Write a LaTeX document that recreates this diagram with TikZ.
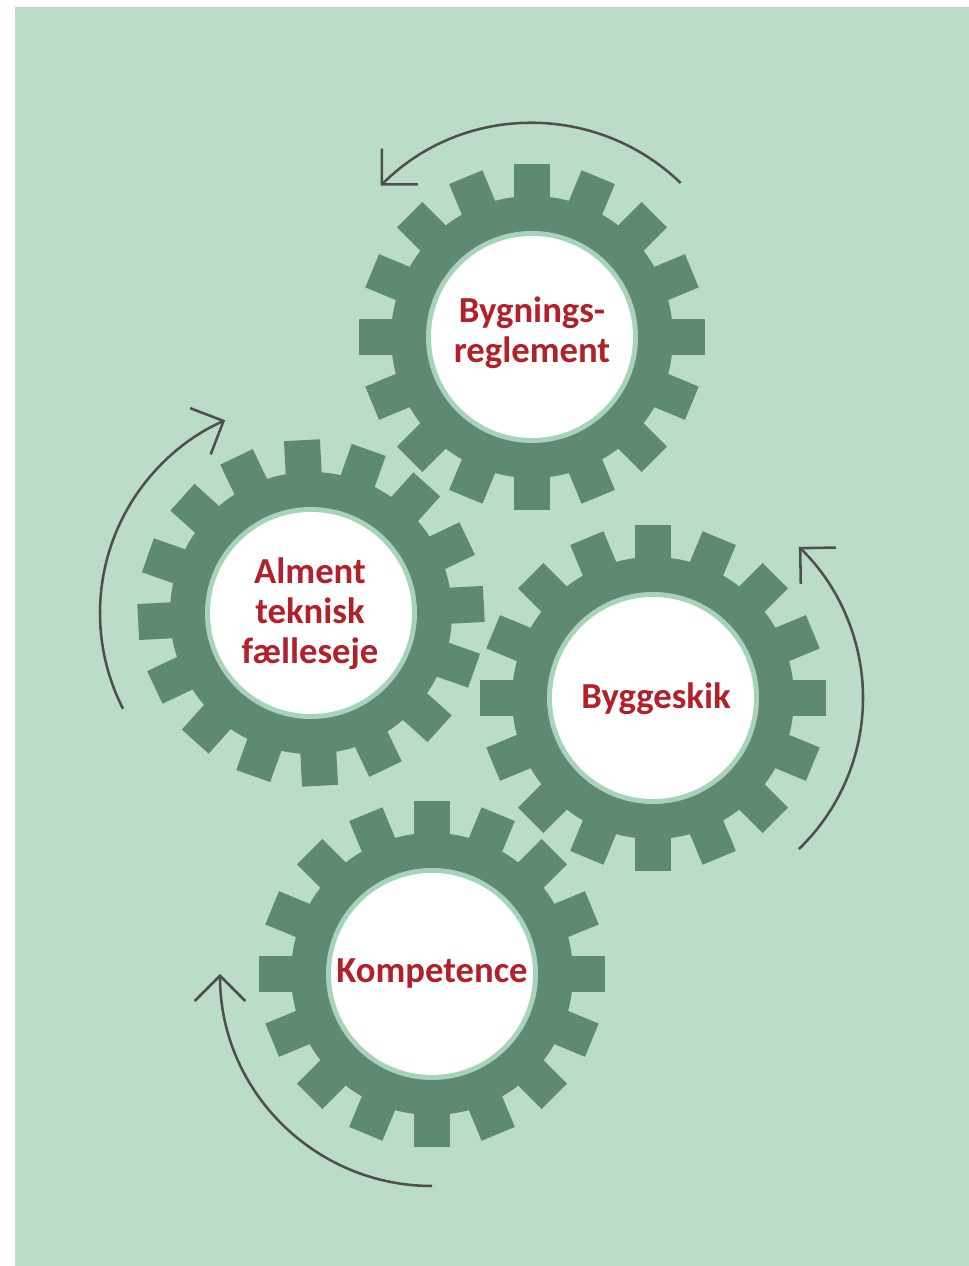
\documentclass[tikz,border=0pt]{standalone}
\usepackage{fontspec}
\setmainfont{Carlito}
\usetikzlibrary{arrows.meta}
\definecolor{bgc}{HTML}{BADCC8}
\definecolor{gearc}{HTML}{608974}
\definecolor{ringc}{HTML}{A6D3BA}
\definecolor{txtc}{HTML}{B2202A}
\definecolor{arrc}{HTML}{4F4F4F}
\newcommand{\drawgear}[2]{%
  \fill[gearc] (#1) circle[radius=141];
  \foreach \i in {0,...,15}{
    \fill[gearc, shift={(#1)}, rotate={#2+\i*22.5}] (-18,120) rectangle (18,173);
  }
  \fill[ringc] (#1) circle[radius=106];
  \fill[white] (#1) circle[radius=101];
}
\tikzset{
  label/.style={anchor=base, align=center, inner sep=0pt, text=txtc,
    font=\fontsize{27.5pt}{30pt}\selectfont\bfseries},
  turn/.style={draw=arrc, line width=1.9pt,
    -{Straight Barb[length=19pt,width=38pt,line width=1.9pt]}}
}
\begin{document}
\begin{tikzpicture}[x=0.75pt,y=0.75pt]
\useasboundingbox (0,0) rectangle (969,1266);
\fill[bgc] (15,0) rectangle (969,1259);
\coordinate (g1) at (532,929);
\coordinate (g2) at (311,653);
\coordinate (g3) at (653,568);
\coordinate (g4) at (432,292);
\drawgear{g1}{0}
\drawgear{g2}{3}
\drawgear{g3}{0}
\drawgear{g4}{0}
\node[label] (t1) at (532,903) {Bygnings-\\reglement};
\node[label] (t2) at (310,602) {Alment\\teknisk\\fælleseje};
\node[label] (t3) at (656,557) {Byggeskik};
\node[label] (t4) at (432,283) {Kompetence};
\draw[turn] ([shift={(46:214)}]g1) arc[start angle=46, end angle=135, radius=214];
\draw[turn] ([shift={(207:211)}]g2) arc[start angle=207, end angle=114, radius=211];
\draw[turn] ([shift={(-46:210)}]g3) arc[start angle=-46, end angle=46, radius=210];
\draw[turn] ([shift={(270:212)}]g4) arc[start angle=270, end angle=180, radius=212];
\end{tikzpicture}
\end{document}
